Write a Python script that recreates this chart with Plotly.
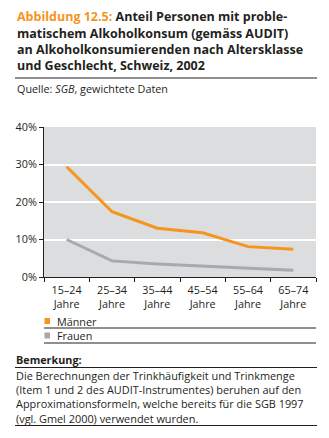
import plotly.graph_objects as go

categories = ["15–24<br>Jahre", "25–34<br>Jahre", "35–44<br>Jahre", "45–54<br>Jahre", "55–64<br>Jahre", "65–74<br>Jahre"]
maenner = [29.4, 17.4, 13.0, 11.8, 8.1, 7.4]
frauen = [10.0, 4.3, 3.5, 2.9, 2.5, 1.8]
series_names = ["Männer", "Frauen"]
y_ticks = [0, 10, 20, 30, 40]

ORANGE = "#F7941D"
GRAY = "#A7A9AC"
INK = "#231F20"
FONT = "Open Sans"

W, H = 329, 438
L, R, T, B = 44, 316, 127, 277

def px(x):
    return (x - L) / (R - L)

def py(y):
    return (B - y) / (B - T)

fig = go.Figure()
fig.add_trace(go.Scatter(x=categories, y=maenner, mode="lines",
                         line=dict(color=ORANGE, width=3), name=series_names[0]))
fig.add_trace(go.Scatter(x=categories, y=frauen, mode="lines",
                         line=dict(color=GRAY, width=3), name=series_names[1]))

ann = []
shapes = []

def text(t, x, y, size, anchor="left", yanchor="middle", pad=1):
    ann.append(dict(text=t, x=px(x), y=py(y), xref="paper", yref="paper",
                    xanchor=anchor, yanchor=yanchor, showarrow=False, align="left",
                    borderpad=pad,
                    font=dict(family=FONT, size=size, color=INK)))

def hline(x0, x1, y):
    shapes.append(dict(type="line", xref="paper", yref="paper", x0=px(x0), x1=px(x1),
                       y0=py(y), y1=py(y), line=dict(color=INK, width=1)))

# Title
title_lines = [
    f"<span style='color:{ORANGE}'>Abbildung 12.5:</span> Anteil Personen mit proble-",
    "matischem Alkoholkonsum (gemäss AUDIT)",
    "an Alkoholkonsumierenden nach Altersklasse",
    "und Geschlecht, Schweiz, 2002",
]
for i, t in enumerate(title_lines):
    text(f"<b>{t}</b>", 15, 17 + i * 16, 12.5)
hline(15, 317, 78)
text("Quelle: <i>SGB</i>, gewichtete Daten", 15, 89, 10.8)

# Legend (manual)
leg_colors = [ORANGE, GRAY]
leg_y = [321, 335.5]
leg_lines = [328, 343]
for name, c, yy, ly in zip(series_names, leg_colors, leg_y, leg_lines):
    shapes.append(dict(type="rect", xref="paper", yref="paper", x0=px(44.5), x1=px(50),
                       y0=py(yy - 3), y1=py(yy + 3), fillcolor=c, line=dict(width=0)))
    text(name, 55, yy, 10.8)
    hline(44, 316, ly)

# Bemerkung
text("<b>Bemerkung:</b>", 15, 359.5, 10.8, pad=0)
hline(15, 317, 367.5)
note_lines = [
    "Die Berechnungen der Trinkhäufigkeit und Trinkmenge",
    "(Item 1 und 2 des AUDIT-Instrumentes) beruhen auf den",
    "Approximationsformeln, welche bereits für die SGB 1997",
    "(vgl. Gmel 2000) verwendet wurden.",
]
text("<br>".join(note_lines), 15, 397, 10.9, pad=0)
hline(15, 317, 425.5)

fig.update_layout(
    width=W, height=H,
    margin=dict(l=L, r=W - R, t=T, b=H - B, pad=0),
    paper_bgcolor="white", plot_bgcolor="#DCDDDE",
    showlegend=False,
    font=dict(family=FONT, size=10.8, color=INK),
    annotations=ann, shapes=shapes,
)
fig.update_xaxes(range=[-0.5, 5.5], tickson="boundaries", ticks="outside", ticklen=4, tickcolor=INK,
                 showline=True, linecolor=INK, linewidth=1, showgrid=False,
                 ticklabelstandoff=3,
                 tickfont=dict(family=FONT, size=10.8), fixedrange=True)
fig.update_yaxes(range=[0, 40], tickvals=y_ticks, ticktext=[f"{v}%" for v in y_ticks],
                 ticks="outside", ticklen=4, tickcolor=INK,
                 showline=True, linecolor=INK, linewidth=1,
                 gridcolor="white", gridwidth=1.5, zeroline=False,
                 tickfont=dict(family=FONT, size=10.8), fixedrange=True)

fig.write_html("out.html", config={"displayModeBar": False})
